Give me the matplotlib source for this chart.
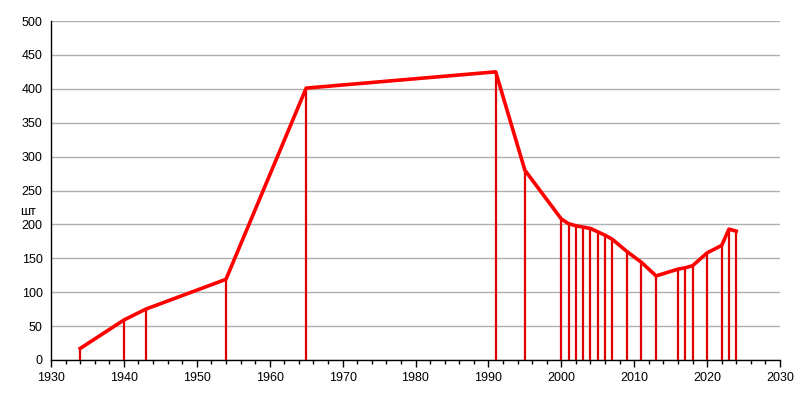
#!/usr/bin/env python3

import matplotlib
matplotlib.use('Agg')
import matplotlib.pyplot as plt
from matplotlib.ticker import MultipleLocator

# years and counts
years = [1934, 1940, 1943, 1954, 1965, 1991, 1995, 2000, 2001, 2002, 2003,
         2004, 2005, 2006, 2007, 2009, 2011, 2013, 2016, 2017, 2018, 2020,
         2022, 2023, 2024]
counts = [17, 59, 75, 119, 401, 425, 280, 208, 201, 198, 196,
          194, 189, 184, 178, 160, 144, 124, 134, 136, 139, 158,
          169, 193, 190]

plt.rcParams['font.family'] = ['Liberation Sans', 'DejaVu Sans']

fig = plt.figure(figsize=(8, 4), dpi=100)
ax = fig.add_axes([0.06375, 0.1, 0.91125, 0.8475])

# grid first, then drop lines and the main line
ax.yaxis.grid(True, color='#b0b0b0', linewidth=1)
ax.set_axisbelow(True)
ax.vlines(years, 0, counts, colors='#e00000', linewidth=1.6, zorder=2)
ax.plot(years, counts, color='#ff0000', linewidth=2.6, zorder=3,
        solid_joinstyle='round')

ax.set_xlim(1930, 2030)
ax.set_ylim(0, 500)
ax.xaxis.set_major_locator(MultipleLocator(10))
ax.xaxis.set_minor_locator(MultipleLocator(2))
ax.yaxis.set_major_locator(MultipleLocator(50))

ax.tick_params(axis='x', which='major', direction='out', length=5, width=1,
               labelsize=9)
ax.tick_params(axis='x', which='minor', direction='out', length=3, width=1)
ax.tick_params(axis='y', length=0, labelsize=9, pad=6)

for s in ['top', 'right']:
    ax.spines[s].set_visible(False)
for s in ['left', 'bottom']:
    ax.spines[s].set_color('black')
    ax.spines[s].set_linewidth(1)

# unit label, horizontal, just left of the axis
ax.text(-0.031, 0.437, 'шт', transform=ax.transAxes, fontsize=9,
        ha='center', va='center')

fig.savefig('out.png', dpi=100)
